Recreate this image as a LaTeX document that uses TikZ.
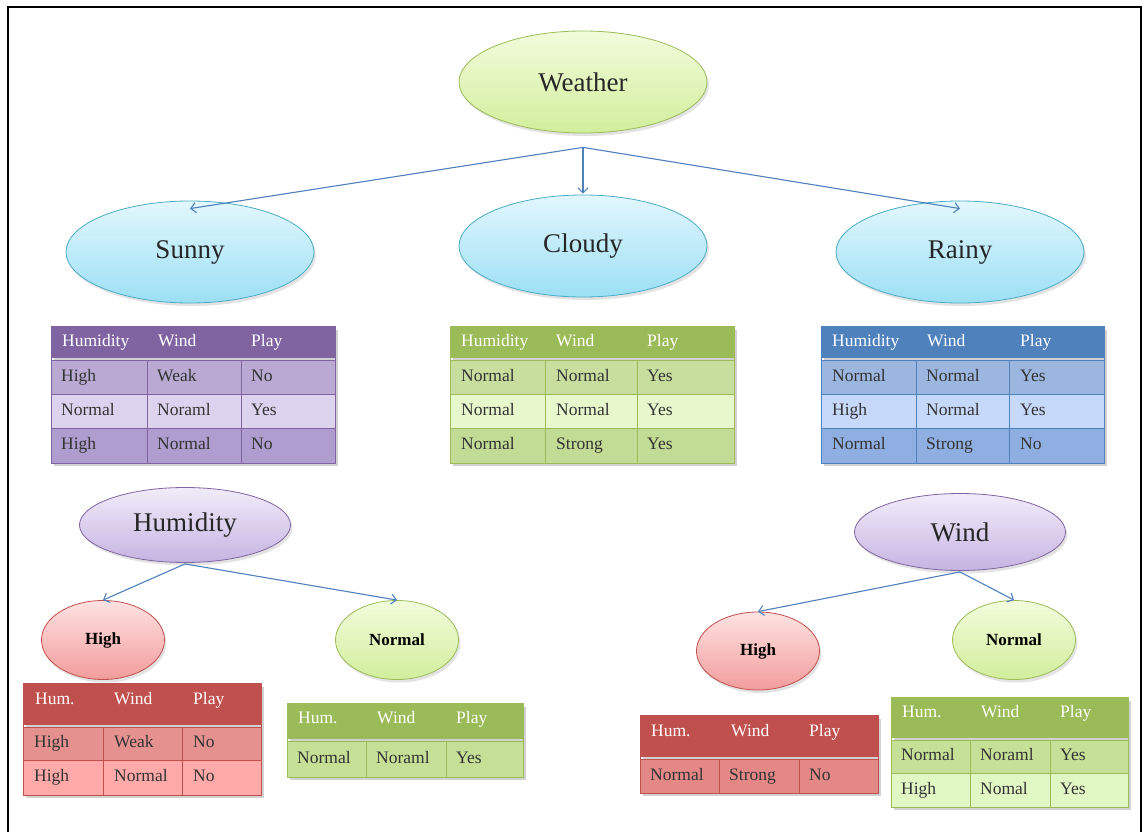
\documentclass[tikz,border=0pt]{standalone}
\usepackage{fontspec}
\setmainfont{Liberation Serif}
\usetikzlibrary{shapes.geometric,arrows.meta,shadows}
\definecolor{arrowblue}{HTML}{4F81BD}
\definecolor{txt}{HTML}{262626}
\definecolor{cellt}{HTML}{333333}
% ellipse colours
\definecolor{wTop}{HTML}{F2FCDC}\definecolor{wBot}{HTML}{D2EE9C}\definecolor{wLine}{HTML}{9BBB59}
\definecolor{bTop}{HTML}{E2F7FD}\definecolor{bBot}{HTML}{9CDFF5}\definecolor{bLine}{HTML}{4BACC6}
\definecolor{uTop}{HTML}{F1ECF9}\definecolor{uBot}{HTML}{C6B4E2}\definecolor{uLine}{HTML}{8064A2}
\definecolor{rTop}{HTML}{FFE2E2}\definecolor{rBot}{HTML}{F29C9C}\definecolor{rLine}{HTML}{C0504D}
% table colours
\definecolor{pH}{HTML}{8064A2}\definecolor{pA}{HTML}{B9A9D3}\definecolor{pB}{HTML}{DDD3EF}\definecolor{pC}{HTML}{AE9DCE}
\definecolor{gH}{HTML}{9BBB59}\definecolor{gA}{HTML}{C8DE9E}\definecolor{gB}{HTML}{E6F8CC}\definecolor{gC}{HTML}{C2DB95}
\definecolor{lH}{HTML}{4F81BD}\definecolor{lA}{HTML}{9BB7E0}\definecolor{lB}{HTML}{C7D9FA}\definecolor{lC}{HTML}{8FAFE2}
\definecolor{rH}{HTML}{C0504D}\definecolor{rA}{HTML}{E4918F}\definecolor{rB}{HTML}{FFA9A9}\definecolor{rD}{HTML}{E38886}
\definecolor{sA}{HTML}{C6E097}\definecolor{sB}{HTML}{E2F8C4}
\tikzset{
  bigell/.style={ellipse,inner sep=0pt,minimum width=248pt,minimum height=102pt,
    font=\fontsize{27}{30}\selectfont,text=txt,line width=0.8pt,
    drop shadow={shadow xshift=2pt,shadow yshift=-3pt,opacity=0.22}},
  midell/.style={ellipse,inner sep=0pt,minimum width=211pt,minimum height=75pt,
    font=\fontsize{27}{30}\selectfont,text=txt,line width=0.8pt,
    drop shadow={shadow xshift=2pt,shadow yshift=-3pt,opacity=0.22}},
  smallell/.style={ellipse,inner sep=0pt,minimum width=123pt,minimum height=79pt,
    font=\bfseries\fontsize{17}{20}\selectfont,text=black,line width=0.8pt,
    drop shadow={shadow xshift=2pt,shadow yshift=-3pt,opacity=0.22}},
  greenell/.style={shading=axis,top color=wTop,bottom color=wBot,draw=wLine},
  blueell/.style={shading=axis,top color=bTop,bottom color=bBot,draw=bLine},
  purpell/.style={shading=axis,top color=uTop,bottom color=uBot,draw=uLine},
  redell/.style={shading=axis,top color=rTop,bottom color=rBot,draw=rLine},
  conn/.style={draw=arrowblue,line width=1.1pt,-{Straight Barb[length=5pt,width=10pt,line width=1.1pt]}},
  cell/.style={anchor=west,inner sep=0pt,text height=12pt,text depth=4pt,font=\fontsize{17.5}{20}\selectfont,text=cellt},
  hcell/.style={anchor=west,inner sep=0pt,text height=12pt,text depth=4pt,font=\fontsize{17.5}{20}\selectfont,text=white},
  tshadow/.style={fill=black,opacity=0.18},
}
\begin{document}
\begin{tikzpicture}[x=1pt,y=-1pt]
\useasboundingbox (0,0) rectangle (1144,832);
\fill[white] (0,0) rectangle (1144,832);
% frame
\draw[line width=2.6pt,black] (8,833) -- (8,7) -- (1141,7) -- (1141,833);

% ---------- ellipses ----------
\node[bigell,greenell] (weather) at (583,82) {Weather};
\node[bigell,blueell] (sunny) at (190,252) {Sunny};
\node[bigell,blueell] (cloudy) at (583,246) {Cloudy};
\node[bigell,blueell] (rainy) at (960,252) {Rainy};
\node[midell,purpell] (humid) at (185,525) {Humidity};
\node[midell,purpell,minimum height=77pt] (wind) at (960,532) {Wind};
\node[smallell,redell] (hhigh) at (103,640) {High};
\node[smallell,greenell] (hnorm) at (397,640) {Normal};
\node[smallell,redell,minimum height=78pt] (whigh) at (758,651) {High};
\node[smallell,greenell] (wnorm) at (1014,640) {Normal};

% ---------- connectors ----------
\coordinate (wsplit) at ([yshift=-14pt]weather.south);
\draw[conn] (wsplit) -- ([yshift=-8pt]sunny.north);
\draw[conn] (wsplit) -- ([yshift=1pt]cloudy.north);
\draw[conn] (wsplit) -- ([yshift=-8pt]rainy.north);
\coordinate (hsplit) at ([yshift=-1pt]humid.south);
\draw[conn] (hsplit) -- (hhigh.north);
\draw[conn] (hsplit) -- (hnorm.north);
\coordinate (wisplit) at ([yshift=-1pt]wind.south);
\draw[conn] (wisplit) -- (whigh.north);
\draw[conn] (wisplit) -- (wnorm.north);

% ---------- Sunny table ----------
\fill[tshadow] (54,330) rectangle (338,466);
\fill[pH] (51,326) rectangle (335,358);
\node[hcell] (sh1) at (62,342) {Humidity};
\node[hcell] (sh2) at (158,342) {Wind};
\node[hcell] (sh3) at (251,342) {Play};
\foreach \ya/\yb/\c/\ta/\tb/\tc [count=\i] in {360/394/pA/High/Weak/No, 394/428/pB/Normal/Noraml/Yes, 428/463/pC/High/Normal/No}{
  \fill[\c] (51,\ya) rectangle (335,\yb);
  \draw[pH,line width=0.9pt] (51,\ya) rectangle (335,\yb) (147,\ya) -- (147,\yb) (241,\ya) -- (241,\yb);
  \node[cell] (s\i a) at (61,{(\ya+\yb)/2}) {\ta};
  \node[cell] (s\i b) at (157,{(\ya+\yb)/2}) {\tb};
  \node[cell] (s\i c) at (251,{(\ya+\yb)/2}) {\tc};
}
\draw[pH,line width=0.9pt] (51,326) -- (51,360) (335,326) -- (335,360) (51,326) -- (335,326);

% ---------- Cloudy table ----------
\fill[tshadow] (453,330) rectangle (737,466);
\fill[gH] (450,326) rectangle (734,358);
\node[hcell] (ch1) at (461,342) {Humidity};
\node[hcell] (ch2) at (556,342) {Wind};
\node[hcell] (ch3) at (647,342) {Play};
\foreach \ya/\yb/\c/\ta/\tb/\tc [count=\i] in {360/394/gA/Normal/Normal/Yes, 394/428/gB/Normal/Normal/Yes, 428/463/gC/Normal/Strong/Yes}{
  \fill[\c] (450,\ya) rectangle (734,\yb);
  \draw[gH,line width=0.9pt] (450,\ya) rectangle (734,\yb) (545,\ya) -- (545,\yb) (637,\ya) -- (637,\yb);
  \node[cell] (c\i a) at (461,{(\ya+\yb)/2}) {\ta};
  \node[cell] (c\i b) at (556,{(\ya+\yb)/2}) {\tb};
  \node[cell] (c\i c) at (647,{(\ya+\yb)/2}) {\tc};
}
\draw[gH,line width=0.9pt] (450,326) -- (450,360) (734,326) -- (734,360) (450,326) -- (734,326);

% ---------- Rainy table ----------
\fill[tshadow] (824,330) rectangle (1107,466);
\fill[lH] (821,326) rectangle (1104,358);
\node[hcell] (rh1) at (832,342) {Humidity};
\node[hcell] (rh2) at (927,342) {Wind};
\node[hcell] (rh3) at (1020,342) {Play};
\foreach \ya/\yb/\c/\ta/\tb/\tc [count=\i] in {360/394/lA/Normal/Normal/Yes, 394/428/lB/High/Normal/Yes, 428/463/lC/Normal/Strong/No}{
  \fill[\c] (821,\ya) rectangle (1104,\yb);
  \draw[lH,line width=0.9pt] (821,\ya) rectangle (1104,\yb) (916,\ya) -- (916,\yb) (1009,\ya) -- (1009,\yb);
  \node[cell] (r\i a) at (832,{(\ya+\yb)/2}) {\ta};
  \node[cell] (r\i b) at (926,{(\ya+\yb)/2}) {\tb};
  \node[cell] (r\i c) at (1020,{(\ya+\yb)/2}) {\tc};
}
\draw[lH,line width=0.9pt] (821,326) -- (821,360) (1104,326) -- (1104,360) (821,326) -- (1104,326);

% ---------- Humidity-High table ----------
\fill[tshadow] (26,687) rectangle (264,798);
\fill[rH] (23,683) rectangle (261,725);
\node[hcell] (hh1) at (35,700) {Hum.};
\node[hcell] (hh2) at (114,700) {Wind};
\node[hcell] (hh3) at (193,700) {Play};
\foreach \ya/\yb/\c/\ta/\tb/\tc [count=\i] in {727/760/rA/High/Weak/No, 760/795/rB/High/Normal/No}{
  \fill[\c] (23,\ya) rectangle (261,\yb);
  \draw[rH,line width=0.9pt] (23,\ya) rectangle (261,\yb) (103,\ya) -- (103,\yb) (182,\ya) -- (182,\yb);
  \node[cell] (hh\i a) at (34,{(\ya+\yb)/2}) {\ta};
  \node[cell] (hh\i b) at (114,{(\ya+\yb)/2}) {\tb};
  \node[cell] (hh\i c) at (193,{(\ya+\yb)/2}) {\tc};
}
\draw[rH,line width=0.9pt] (23,683) -- (23,727) (261,683) -- (261,727) (23,683) -- (261,683);

% ---------- Humidity-Normal table ----------
\fill[tshadow] (290,707) rectangle (526,780);
\fill[gH] (287,703) rectangle (523,739);
\node[hcell] (hn1) at (298,719) {Hum.};
\node[hcell] (hn2) at (377,719) {Wind};
\node[hcell] (hn3) at (456,719) {Play};
\foreach \ya/\yb/\c/\ta/\tb/\tc [count=\i] in {741/777/sA/Normal/Noraml/Yes}{
  \fill[\c] (287,\ya) rectangle (523,\yb);
  \draw[gH,line width=0.9pt] (287,\ya) rectangle (523,\yb) (366,\ya) -- (366,\yb) (446,\ya) -- (446,\yb);
  \node[cell] (hn\i a) at (297,{(\ya+\yb)/2}) {\ta};
  \node[cell] (hn\i b) at (376,{(\ya+\yb)/2}) {\tb};
  \node[cell] (hn\i c) at (456,{(\ya+\yb)/2}) {\tc};
}
\draw[gH,line width=0.9pt] (287,703) -- (287,741) (523,703) -- (523,741) (287,703) -- (523,703);

% ---------- Wind-High table ----------
\fill[tshadow] (643,719) rectangle (881,796);
\fill[rH] (640,715) rectangle (878,757);
\node[hcell] (wh1) at (651,732) {Hum.};
\node[hcell] (wh2) at (731,732) {Wind};
\node[hcell] (wh3) at (809,732) {Play};
\foreach \ya/\yb/\c/\ta/\tb/\tc [count=\i] in {759/793/rD/Normal/Strong/No}{
  \fill[\c] (640,\ya) rectangle (878,\yb);
  \draw[rH,line width=0.9pt] (640,\ya) rectangle (878,\yb) (719,\ya) -- (719,\yb) (799,\ya) -- (799,\yb);
  \node[cell] (wh\i a) at (650,{(\ya+\yb)/2}) {\ta};
  \node[cell] (wh\i b) at (729,{(\ya+\yb)/2}) {\tb};
  \node[cell] (wh\i c) at (809,{(\ya+\yb)/2}) {\tc};
}
\draw[rH,line width=0.9pt] (640,715) -- (640,759) (878,715) -- (878,759) (640,715) -- (878,715);

% ---------- Wind-Normal table ----------
\fill[tshadow] (894,701) rectangle (1131,810);
\fill[gH] (891,697) rectangle (1128,738);
\node[hcell] (wn1) at (902,713) {Hum.};
\node[hcell] (wn2) at (981,713) {Wind};
\node[hcell] (wn3) at (1060,713) {Play};
\foreach \ya/\yb/\c/\ta/\tb/\tc [count=\i] in {740/773/sA/Normal/Noraml/Yes, 773/807/sB/High/Nomal/Yes}{
  \fill[\c] (891,\ya) rectangle (1128,\yb);
  \draw[gH,line width=0.9pt] (891,\ya) rectangle (1128,\yb) (970,\ya) -- (970,\yb) (1050,\ya) -- (1050,\yb);
  \node[cell] (wn\i a) at (901,{(\ya+\yb)/2}) {\ta};
  \node[cell] (wn\i b) at (980,{(\ya+\yb)/2}) {\tb};
  \node[cell] (wn\i c) at (1060,{(\ya+\yb)/2}) {\tc};
}
\draw[gH,line width=0.9pt] (891,697) -- (891,740) (1128,697) -- (1128,740) (891,697) -- (1128,697);
\end{tikzpicture}
\end{document}
